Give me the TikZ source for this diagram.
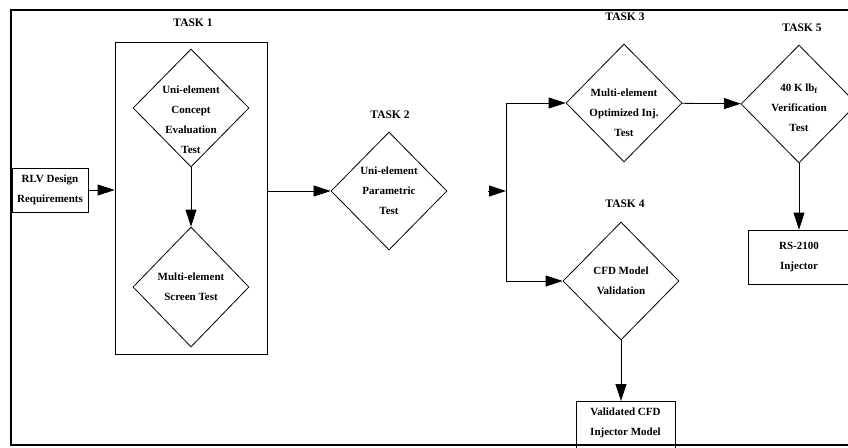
\documentclass[tikz,border=0pt]{standalone}
\usepackage{fontspec}
\setmainfont{Liberation Serif}
\usetikzlibrary{arrows.meta, positioning, shapes.geometric, calc}

\begin{document}
\begin{tikzpicture}[
  x=1pt, y=-1pt,
  txt/.style={font=\fontsize{11}{20}\selectfont\bfseries, align=center},
  tasklbl/.style={font=\fontsize{11.5}{13}\selectfont\bfseries},
  box/.style={draw, line width=0.8pt, inner sep=0pt, txt},
  dmd/.style={draw, diamond, line width=0.8pt, inner sep=0pt, minimum width=116pt, minimum height=118pt},
  dep/.style={-{Triangle[length=17pt, width=11pt]}, line width=0.8pt},
]
\useasboundingbox (0,0) rectangle (848,447);
\clip (0,0) rectangle (848,447);

% frame
\draw[line width=1.2pt] (11,10) rectangle (860,445);

% Task 1
\node[tasklbl] (lbl-t1) at (193,23) {TASK 1};
\node[box, minimum width=152pt, minimum height=312pt] (task1) at (191,198) {};
\node[dmd, label={[txt, yshift=-12pt]center:Uni-element\\Concept\\Evaluation\\Test}] (d-concept) at (191,108) {};
\node[dmd, minimum height=120pt, label={[txt]center:Multi-element\\Screen Test}] (d-screen) at (191,287) {};

% start
\node[box, minimum width=76pt, minimum height=44pt] (rlv) at (50,190) {RLV Design\\Requirements};

% Task 2
\node[tasklbl] (lbl-t2) at (390,115) {TASK 2};
\node[dmd, label={[txt]center:Uni-element\\Parametric\\Test}] (d-param) at (389,191) {};

% split
\coordinate (split-in) at (488,191);
\coordinate (split) at (506,191);

% Task 3 and 5
\node[tasklbl] (lbl-t3) at (625,17) {TASK 3};
\node[dmd, label={[txt, yshift=-10pt]center:Multi-element\\Optimized Inj.\\Test}] (d-opt) at (624,103) {};
\node[tasklbl] (lbl-t5) at (802,28) {TASK 5};
\node[dmd, label={[txt, yshift=-4pt]center:40 K lb\textsubscript{f}\\Verification\\Test}] (d-verif) at (799,104) {};
\node[box, minimum width=102pt, minimum height=54pt] (rs) at (799,257) {RS-2100\\Injector};

% Task 4
\node[tasklbl] (lbl-t4) at (625,204) {TASK 4};
\node[dmd, label={[txt]center:CFD Model\\Validation}] (d-cfd) at (621,281) {};
\node[box, minimum width=99pt, minimum height=50pt, anchor=north] (vcfd) at (625.5,401) {};
\node[txt] (vcfd-txt) at (625.5,423) {Validated CFD\\Injector Model};

% connectors
\draw[dep] (rlv) -- (rlv -| task1.west);
\draw[dep] (d-concept.south) -- (d-screen.north);
\draw[dep] (task1.east |- d-param) -- (d-param);
\draw[dep] (split-in) -- (split);
\draw[dep] (split) |- (d-opt);
\draw[dep] (split) |- (d-cfd);
\draw[dep] (d-opt) -- (d-verif);
\draw[dep] (d-verif.south) -- (rs.north);
\draw[dep] (d-cfd.south) -- (d-cfd.south |- vcfd.north);

\end{tikzpicture}
\end{document}
